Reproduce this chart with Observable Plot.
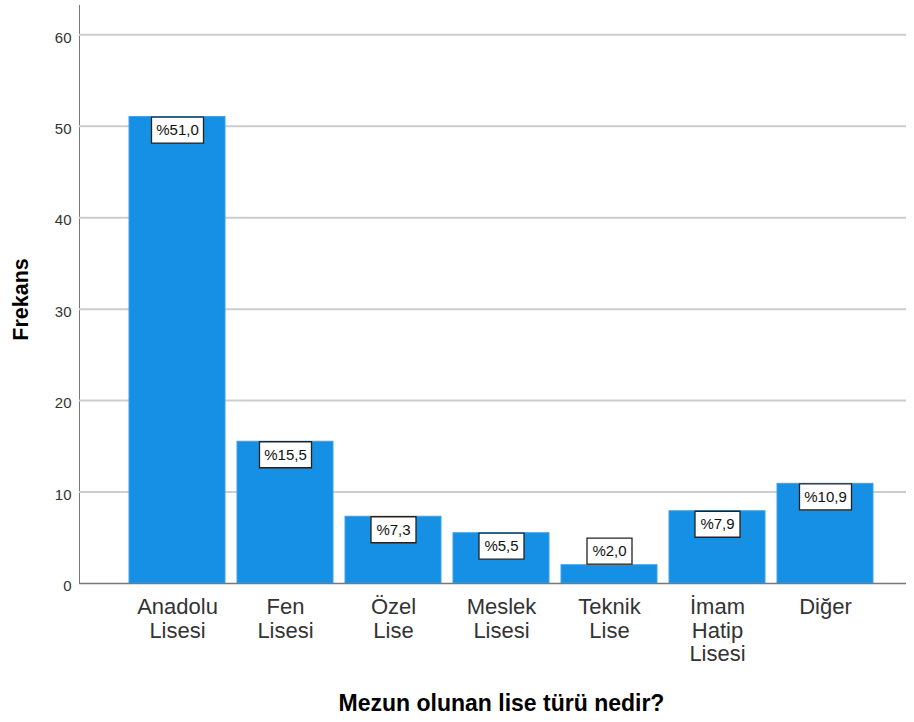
<!DOCTYPE html>
<html>
<head>
<meta charset="utf-8">
<script src="https://cdn.jsdelivr.net/npm/d3@7"></script>
<script src="https://cdn.jsdelivr.net/npm/@observablehq/plot@0.6"></script>
<style>
  html, body { margin: 0; padding: 0; background: #fff; }
</style>
</head>
<body>
<div id="chart"></div>
<script>
// ---- data ----
const categories = ["Anadolu\nLisesi", "Fen\nLisesi", "Özel\nLise", "Meslek\nLisesi", "Teknik\nLise", "İmam\nHatip\nLisesi", "Diğer"];
const values = [51.0, 15.5, 7.3, 5.5, 2.0, 7.9, 10.9];
const pctLabels = ["%51,0", "%15,5", "%7,3", "%5,5", "%2,0", "%7,9", "%10,9"];
const yTicks = [0, 10, 20, 30, 40, 50, 60];
const yLabel = "Frekans";
const xLabel = "Mezun olunan lise türü nedir?";

const data = categories.map((c, i) => ({cat: c, value: values[i], label: pctLabels[i]}));

function boxSymbol(w, h) {
  return {draw(ctx) { ctx.rect(-w / 2, -h / 2, w, h); }};
}
const wideBox = boxSymbol(52, 26);
const narrowBox = boxSymbol(45, 26);

const inside = d => d.value >= 4;
const above = d => d.value < 4;
const isWide = d => d.label.length >= 5;

const font = "'Liberation Sans', Arial, sans-serif";

const chart = Plot.plot({
  width: 914,
  height: 722,
  marginLeft: 79,
  marginRight: 8,
  marginTop: 5,
  marginBottom: 139,
  style: {fontFamily: font, background: "white", color: "#777", overflow: "visible"},
  x: {domain: categories, axis: null, insetLeft: 47, insetRight: 30, paddingInner: 0.108, paddingOuter: 0},
  y: {domain: [0, 63.2], axis: "left", line: true, tickSize: 0, ticks: yTicks, tickFormat: () => "", label: null},
  marks: [
    Plot.ruleY(yTicks.filter(t => t > 0), {stroke: "#cdcdcd", strokeWidth: 2}),
    Plot.barY(data, {x: "cat", y: "value", fill: "#1590e5", stroke: "#3aa2ec", strokeWidth: 1}),
    Plot.ruleY([0], {stroke: "#777", strokeWidth: 1.5}),
    // y tick labels
    Plot.text(yTicks, {y: d => d, frameAnchor: "left", textAnchor: "end", dx: -8, dy: 3, fontSize: 15, fill: "#333", text: d => String(d)}),
    // x tick labels (multi-line)
    Plot.text(data, {x: "cat", frameAnchor: "bottom", lineAnchor: "top", dy: 14, fontSize: 22, lineHeight: 1.07, fill: "#333", text: "cat"}),
    // value label boxes
    Plot.dot(data, {filter: d => inside(d) && isWide(d), x: "cat", y: "value", dy: 13, symbol: wideBox, fill: "white", stroke: "#222", strokeWidth: 1.3}),
    Plot.dot(data, {filter: d => inside(d) && !isWide(d), x: "cat", y: "value", dy: 13, symbol: narrowBox, fill: "white", stroke: "#222", strokeWidth: 1.3}),
    Plot.dot(data, {filter: d => above(d) && isWide(d), x: "cat", y: "value", dy: -14, symbol: wideBox, fill: "white", stroke: "#222", strokeWidth: 1.3}),
    Plot.dot(data, {filter: d => above(d) && !isWide(d), x: "cat", y: "value", dy: -14, symbol: narrowBox, fill: "white", stroke: "#222", strokeWidth: 1.3}),
    Plot.text(data, {filter: inside, x: "cat", y: "value", dy: 13, text: "label", fontSize: 15, fill: "#111"}),
    Plot.text(data, {filter: above, x: "cat", y: "value", dy: -14, text: "label", fontSize: 15, fill: "#111"}),
    // axis titles
    Plot.text([yLabel], {frameAnchor: "left", textAnchor: "middle", dx: -58, dy: 5, rotate: -90, fontSize: 21.5, fontWeight: "bold", fill: "#000"}),
    Plot.text([xLabel], {frameAnchor: "bottom", textAnchor: "middle", lineAnchor: "bottom", dx: 8.5, dy: 127, fontSize: 23, fontWeight: "bold", fill: "#000"})
  ]
});
document.getElementById("chart").appendChild(chart);
</script>
</body>
</html>
